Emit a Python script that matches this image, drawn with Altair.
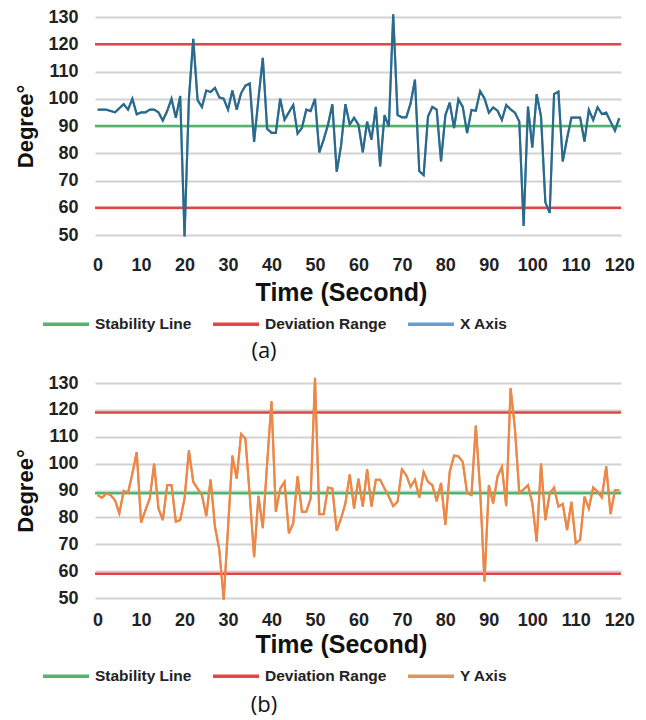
import altair as alt
import pandas as pd

# ---------------- data ----------------
time_s = list(range(121))

x_axis_deg = [96, 96, 96, 95.5, 95, 96.5, 98, 96, 100, 94.3,
              95, 95, 96, 96, 95, 92, 95.5, 100, 93, 101,
              49.5, 100, 122, 99.5, 97, 103, 102.5, 104, 100.5, 100,
              96, 103, 96, 102, 104.8, 105.6, 84.2, 100, 115, 89,
              87.5, 87.5, 100, 92.3, 95, 97.7, 87.2, 89.3, 96, 95.5,
              100, 80.3, 85, 90.5, 98, 73.2, 82.7, 98, 90.6, 93,
              90.5, 80.3, 91.6, 85, 97, 75.2, 94, 89.8, 131, 94,
              93.2, 93.2, 98.3, 107, 73.4, 72, 93.5, 97, 96, 77,
              94, 98.6, 89.2, 99.8, 97, 87.4, 95.9, 95.6, 102.8, 100.1,
              94.9, 96.8, 95.6, 92.2, 97.7, 96.1, 94.9, 91.6, 53.3, 97.1,
              82.1, 101.7, 93.5, 62, 58.1, 101.7, 102.6, 77, 85.5, 93.1,
              93.1, 93.1, 84.3, 95.9, 92.2, 96.9, 94.4, 94.9, 91.6, 88.3,
              92.9]

y_axis_deg = [88.3, 87.3, 88.9, 88.3, 86.4, 81.5, 89.9, 89.1, 96.3, 104.3,
              78, 82.7, 87, 100, 83.3, 79, 92, 92, 78.4, 79,
              87, 104.9, 93.2, 90.7, 88.3, 80.5, 94.1, 76.5, 67.9, 49.4,
              76, 103, 94.4, 111, 109.3, 88, 65.2, 88, 76, 100,
              123.2, 82.1, 90.7, 93.2, 74.1, 77.8, 95.3, 82.1, 82.1, 87,
              131.9, 81.2, 81.2, 91.1, 90.7, 75.1, 79.6, 85.2, 96, 83.3,
              94.4, 84, 97.9, 84, 94, 94, 90.7, 87.7, 84.2, 85.8,
              97.9, 95.7, 91.4, 94, 87.4, 96.9, 93.2, 92, 86, 92.8,
              77.2, 97, 103, 102.7, 100.6, 89, 88.3, 114.2, 90, 56.2,
              92, 85.2, 95.3, 98.8, 84.2, 128.1, 113, 89.1, 90.4, 92,
              85.2, 71, 100, 79, 88.9, 91.1, 84, 85, 75.3, 85.8,
              70.4, 71.6, 87.7, 83.3, 91.1, 89.5, 87.4, 99, 81.2, 90.1,
              90.1]

ref_names = ["Stability Line", "Deviation Range", "Deviation Range"]
ref_a = [90, 120, 60]
ref_b = [89, 119, 59]

y_ticks = list(range(50, 131, 10))
x_ticks = list(range(0, 121, 10))

GREEN = "#55B26E"
RED = "#E04646"
FONT = "Liberation Sans"


def panel(values, series_name, line_color, legend_color, refs, caption,
          label_pad, title_pad, height, legend_y, caption_y):
    df = pd.DataFrame({"t": time_s, "deg": values, "series": series_name})
    ref = pd.DataFrame({"deg": refs, "series": ref_names})
    cscale = alt.Scale(domain=["Stability Line", "Deviation Range", series_name],
                       range=[GREEN, RED, legend_color])
    legend = alt.Legend(title=None, orient="none", legendX=-54, legendY=legend_y,
                        direction="horizontal", symbolType="stroke",
                        symbolStrokeWidth=3.5, symbolSize=2116,
                        labelFont=FONT, labelFontSize=15.5, labelFontWeight="bold",
                        labelColor="#222222", labelOffset=4, columnPadding=14)
    x = alt.X("t:Q", scale=alt.Scale(domain=[-0.6, 120.4], nice=False, zero=False),
              axis=alt.Axis(values=x_ticks, title="Time (Second)", grid=False,
                            domain=False, ticks=False, labelPadding=label_pad,
                            labelFont=FONT, labelFontSize=18, labelFontWeight="bold",
                            labelColor="#222222", titleFont=FONT, titleFontSize=25,
                            titleFontWeight="bold", titleColor="#111111",
                            titlePadding=title_pad, titleX=246))
    y = alt.Y("deg:Q", scale=alt.Scale(domain=[50, 130], nice=False, zero=False),
              axis=alt.Axis(values=y_ticks, title="Degree°", grid=True,
                            gridColor="#D2D2D2", gridWidth=2, domain=False,
                            ticks=False, labelPadding=17, labelFont=FONT,
                            labelFontSize=18, labelFontWeight="bold",
                            labelColor="#222222", titleFont=FONT, titleFontSize=22,
                            titleFontWeight="bold", titleColor="#111111",
                            titlePadding=10))
    base = alt.Chart(df).mark_line(strokeWidth=2).encode(
        x=x, y=y, color=alt.Color("series:N", scale=cscale, legend=legend))
    rules = alt.Chart(ref).mark_rule(strokeWidth=2.5).encode(
        y=y, color=alt.Color("series:N", scale=cscale, legend=legend))
    top = alt.Chart(df).mark_line(strokeWidth=2.2, color=line_color).encode(x=x, y=y)
    cap = alt.Chart(pd.DataFrame({"c": [caption]})).mark_text(
        font="Open Sans", fontSize=22, color="#111111", baseline="middle",
        align="center").encode(text="c:N", x=alt.value(169), y=alt.value(caption_y))
    return alt.layer(base, rules, top, cap).properties(width=526, height=height)


top_panel = panel(x_axis_deg, "X Axis", "#2C6A8B", "#6C9BD2", ref_a, "(a)",
                  label_pad=21, title_pad=6, height=218, legend_y=282, caption_y=334)
bot_panel = panel(y_axis_deg, "Y Axis", "#EE8646", "#D9955F", ref_b, "(b)",
                  label_pad=13, title_pad=3, height=215, legend_y=268, caption_y=322)

chart = alt.vconcat(top_panel, bot_panel, spacing=11).resolve_scale(
    color="independent").properties(
    padding={"left": 6, "top": 0, "right": 0, "bottom": 14}).configure_view(stroke=None)

chart.save("out.html", embed_options={"renderer": "svg", "actions": False})
